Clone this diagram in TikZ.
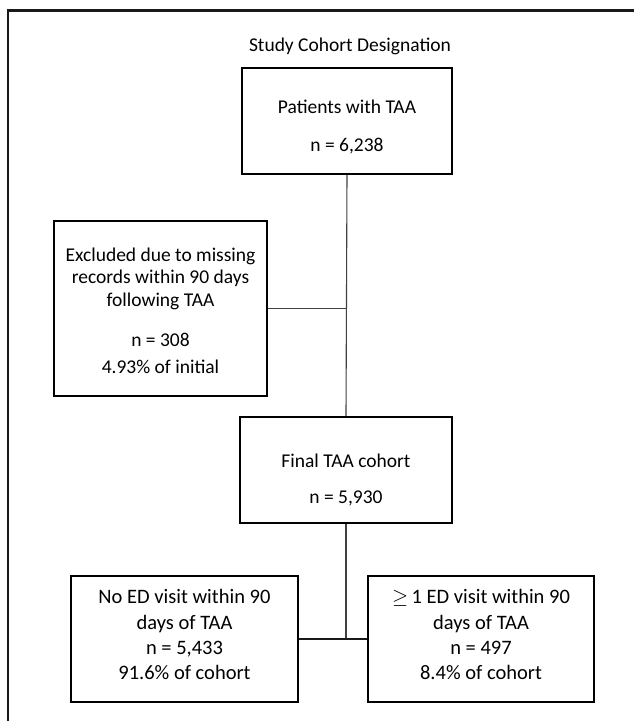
\documentclass[tikz,border=0pt]{standalone}
\usepackage{fontspec}
\setmainfont{Carlito}
\begin{document}
\begin{tikzpicture}[x=1pt,y=-1pt,
  box/.style={draw=black, line width=1.6pt, minimum width=#1, inner sep=0pt},
  txt/.style={anchor=base, inner sep=0pt, font=\fontsize{19.5}{23}\selectfont, text=black},
  btxt/.style={txt, font=\fontsize{20.5}{24}\selectfont},
  conn/.style={draw=black!75, line width=1.1pt}]
\useasboundingbox (0,0) rectangle (634,721);
\fill[white] (0,0) rectangle (634,721);
\begin{scope}
\clip (0,0) rectangle (634,721);
\draw[line width=2.2pt, black!90] (8,10.5) rectangle (660,750);
\end{scope}
\node[txt] (title) at (350,51) {Study Cohort Designation};
% boxes
\node[box=210pt, minimum height=106pt] (top) at (347,121) {};
\node[box=213pt, minimum height=175pt] (excl) at (160.5,308.5) {};
\node[box=212pt, minimum height=106pt] (final) at (346,470) {};
\node[box=227pt, minimum height=126pt] (left) at (184.5,639) {};
\node[box=226pt, minimum height=126pt] (right) at (481,639) {};
% texts
\node[txt] (t1) at (347,113.5) {Patients with TAA};
\node[txt] (t2) at (347,151.5) {n = 6,238};
\node[txt] (e1) at (160.5,261) {Excluded due to missing};
\node[txt] (e2) at (160.5,283.5) {records within 90 days};
\node[txt] (e3) at (160.5,306) {following TAA};
\node[txt] (e4) at (160.5,346) {n = 308};
\node[txt] (e5) at (160.5,373) {4.93\% of initial};
\node[txt] (f1) at (346,467) {Final TAA cohort};
\node[txt] (f2) at (346,503) {n = 5,930};
\node[btxt] (l1) at (184.5,603) {No ED visit within 90};
\node[btxt] (l2) at (184.5,629) {days of TAA};
\node[btxt] (l3) at (184.5,654) {n = 5,433};
\node[btxt] (l4) at (184.5,679) {91.6\% of cohort};
\node[btxt] (r1) at (481,603) {$\geq$\,1 ED visit within 90};
\node[btxt] (r2) at (481,629) {days of TAA};
\node[btxt] (r3) at (481,654) {n = 497};
\node[btxt] (r4) at (481,679) {8.4\% of cohort};
% connectors
\draw[conn] (top.south) -- (final.north);
\draw[conn] (excl.east) -- (excl.east -| top.south);
\draw[conn] (final.south) -- (final.south |- left.east);
\draw[conn, black!90] (left.east) -- (right.west);
\end{tikzpicture}
\end{document}
